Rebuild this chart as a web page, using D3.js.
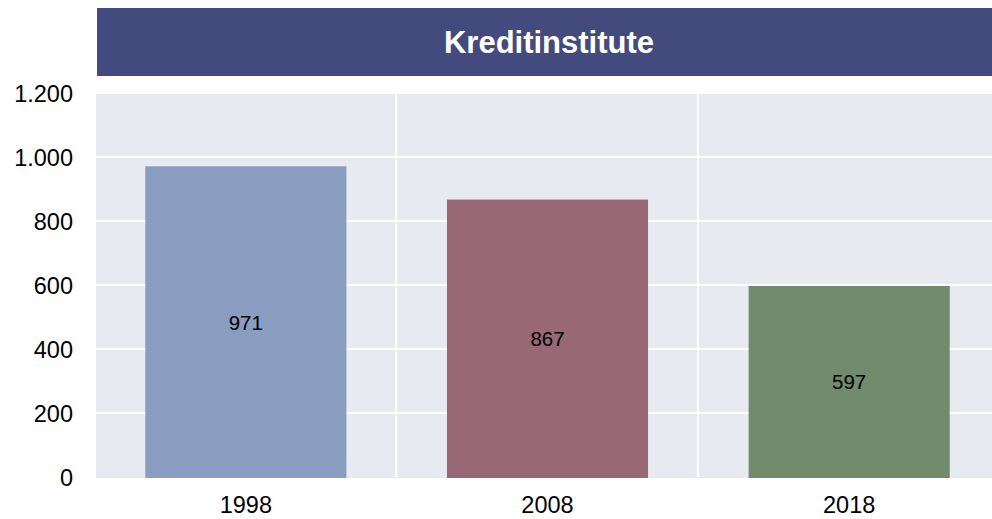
<!DOCTYPE html>
<html>
<head>
<meta charset="utf-8">
<script src="https://cdn.jsdelivr.net/npm/d3@7"></script>
<style>
  body { margin: 0; background: #fff; }
  svg { display: block; font-family: "Liberation Sans", Arial, sans-serif; }
</style>
</head>
<body>
<svg id="chart" width="992" height="519"></svg>
<script>
// Data
var title = "Kreditinstitute";
var years = ["1998", "2008", "2018"];
var counts = [971, 867, 597];
var barColors = ["#889dc0", "#986874", "#718b6c"];
var yTicks = [0, 200, 400, 600, 800, 1000, 1200];

var width = 992, height = 519;
var margin = { top: 93, right: -8, bottom: 42, left: 95 };

var svg = d3.select("#chart");

// Title bar
svg.append("rect")
    .attr("x", 97).attr("y", 8)
    .attr("width", width - 97).attr("height", 68)
    .attr("fill", "#434a7d");
svg.append("text")
    .attr("x", 549).attr("y", 53)
    .attr("text-anchor", "middle")
    .attr("fill", "#fff")
    .attr("font-weight", "bold")
    .attr("font-size", 31)
    .text(title);

var xScale = d3.scaleBand()
    .domain(years)
    .range([margin.left, width - margin.right])
    .paddingInner(1 / 3)
    .paddingOuter(1 / 6);

var yScale = d3.scaleLinear()
    .domain([0, 1200])
    .range([height - margin.bottom, margin.top]);

// Plot background
svg.append("rect")
    .attr("x", margin.left + 1)
    .attr("y", margin.top)
    .attr("width", width - margin.left)
    .attr("height", yScale(0) - margin.top + 1)
    .attr("fill", "#e8eaf2");

// Horizontal gridlines
svg.append("g")
    .selectAll("line")
    .data(yTicks.slice(1))
    .enter()
    .append("line")
    .attr("x1", margin.left + 1).attr("x2", width)
    .attr("y1", function(d) { return yScale(d); })
    .attr("y2", function(d) { return yScale(d); })
    .attr("stroke", "#fff")
    .attr("stroke-width", 2);

// Vertical gridlines between categories
var step = xScale.step();
svg.append("g")
    .selectAll("line")
    .data(years.slice(1))
    .enter()
    .append("line")
    .attr("x1", function(d) { return xScale(d) - step * (1 / 6) - 0.5; })
    .attr("x2", function(d) { return xScale(d) - step * (1 / 6) - 0.5; })
    .attr("y1", margin.top)
    .attr("y2", yScale(0))
    .attr("stroke", "#fff")
    .attr("stroke-width", 2);

// Bars
svg.append("g")
    .selectAll("rect")
    .data(counts)
    .enter()
    .append("rect")
    .attr("x", function(d, i) { return xScale(years[i]); })
    .attr("width", xScale.bandwidth())
    .attr("y", function(d) { return yScale(d); })
    .attr("height", function(d) { return yScale(0) - yScale(d) + 1; })
    .attr("fill", function(d, i) { return barColors[i]; });

// Value labels
svg.append("g")
    .selectAll("text")
    .data(counts)
    .enter()
    .append("text")
    .attr("x", function(d, i) { return xScale(years[i]) + xScale.bandwidth() / 2; })
    .attr("y", function(d) { return (yScale(d) + yScale(0)) / 2 + 8; })
    .attr("text-anchor", "middle")
    .attr("font-size", 20.5)
    .attr("fill", "#000")
    .text(function(d) { return d; });

// Y axis
var deFormat = d3.formatLocale({ decimal: ",", thousands: ".", grouping: [3], currency: ["", " €"] }).format(",");
var yAxis = d3.axisLeft(yScale)
    .tickValues(yTicks)
    .tickFormat(deFormat)
    .tickSize(0)
    .tickPadding(0);
var yg = svg.append("g")
    .attr("transform", "translate(73,0)")
    .call(yAxis);
yg.select(".domain").remove();
yg.selectAll("text")
    .attr("font-size", 23.5)
    .attr("fill", "#000")
    .attr("dy", "0.36em")
    .attr("font-family", "Liberation Sans, Arial, sans-serif");

// X axis
var xAxis = d3.axisBottom(xScale).tickSize(0).tickPadding(0);
var xg = svg.append("g")
    .attr("transform", "translate(0," + (yScale(0) + 19) + ")")
    .call(xAxis);
xg.select(".domain").remove();
xg.selectAll("text")
    .attr("font-size", 23.5)
    .attr("fill", "#000")
    .attr("font-family", "Liberation Sans, Arial, sans-serif");
</script>
</body>
</html>
